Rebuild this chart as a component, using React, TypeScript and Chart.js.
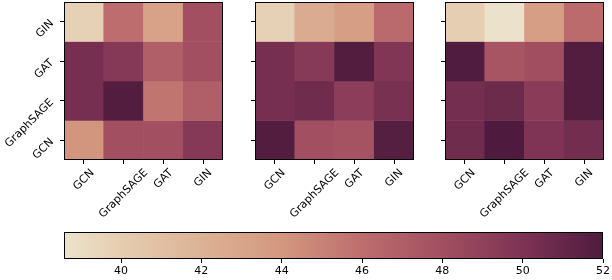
import React, { useEffect, useRef } from "react";
import { Chart, registerables } from "chart.js";

Chart.register(...registerables);

// x categories (left → right)
const colLabels = ["GCN", "GraphSAGE", "GAT", "GIN"];
// y categories (bottom → top)
const rowLabels = ["GCN", "GraphSAGE", "GAT", "GIN"];

// values, rows listed top → bottom (GIN, GAT, GraphSAGE, GCN), columns GCN, GraphSAGE, GAT, GIN
const panel1 = [
  [39.7, 46.0, 43.2, 48.0],
  [50.3, 49.6, 47.0, 48.0],
  [50.3, 51.8, 45.6, 47.0],
  [44.1, 48.0, 48.0, 49.6],
];
const panel2 = [
  [39.7, 42.5, 43.5, 46.2],
  [50.3, 49.5, 51.8, 49.8],
  [50.3, 50.6, 49.3, 50.2],
  [51.8, 48.0, 47.8, 51.7],
];
const panel3 = [
  [39.9, 38.6, 43.5, 46.1],
  [51.9, 47.6, 48.1, 51.8],
  [50.4, 50.7, 49.4, 51.8],
  [50.6, 52.0, 49.9, 50.5],
];

const colorbarTicks = [40, 42, 44, 46, 48, 50, 52];
const vMin = 38.58;
const vMax = 52;

const FONT = "DejaVu Sans";
const FSIZE = 11;

// colormap stops (value, rgb)
const cmapStops: [number, [number, number, number]][] = [
  [38.58, [236, 226, 203]],
  [40, [230, 205, 176]],
  [42, [220, 178, 149]],
  [44, [211, 151, 127]],
  [46, [189, 109, 109]],
  [48, [162, 79, 97]],
  [50, [126, 51, 84]],
  [52, [78, 27, 62]],
];

function rgb(c: number[]) {
  return `rgb(${Math.round(c[0])},${Math.round(c[1])},${Math.round(c[2])})`;
}
function cmap(v: number): string {
  if (v <= cmapStops[0][0]) return rgb(cmapStops[0][1]);
  for (let i = 1; i < cmapStops.length; i++) {
    const [v1, c1] = cmapStops[i];
    const [v0, c0] = cmapStops[i - 1];
    if (v <= v1) {
      const t = (v - v0) / (v1 - v0);
      return rgb([0, 1, 2].map((k) => c0[k] + (c1[k] - c0[k]) * t));
    }
  }
  return rgb(cmapStops[cmapStops.length - 1][1]);
}

const frame = {
  id: "frame",
  afterDatasetsDraw(chart: any) {
    const { ctx, chartArea } = chart;
    ctx.save();
    ctx.strokeStyle = "#000";
    ctx.lineWidth = 1;
    ctx.strokeRect(
      Math.round(chartArea.left) + 0.5,
      Math.round(chartArea.top) + 0.5,
      Math.round(chartArea.right - chartArea.left) - 1,
      Math.round(chartArea.bottom - chartArea.top) - 1
    );
    ctx.restore();
  },
};

// x tick labels rotated 45°, centred horizontally on the tick (matplotlib style)
const xLabels = {
  id: "xLabels",
  afterDraw(chart: any) {
    const { ctx, chartArea } = chart;
    const xs = chart.scales.x;
    const labels = chart.data.labels as string[];
    ctx.save();
    ctx.font = `${FSIZE}px "${FONT}"`;
    ctx.fillStyle = "#000";
    ctx.textAlign = "center";
    ctx.textBaseline = "middle";
    const c = Math.SQRT1_2;
    labels.forEach((lab, i) => {
      const px = xs.getPixelForTick(i);
      const w = ctx.measureText(lab).width;
      const inkH = (w + 0.8 * FSIZE) * c;
      const cy = chartArea.bottom + 8 + inkH / 2;
      ctx.save();
      ctx.translate(px, cy);
      ctx.rotate(-Math.PI / 4);
      ctx.fillText(lab, 0, 0);
      ctx.restore();
    });
    ctx.restore();
  },
};

const noPad = (s: any) => {
  s.paddingTop = 0;
  s.paddingBottom = 0;
  s.paddingLeft = 0;
  s.paddingRight = 0;
};

type HeatProps = {
  values: number[][];
  showY: boolean;
  left: number;
  width: number;
  yWidth: number;
  padRight: number;
};

function Heatmap({ values, showY, left, width, yWidth, padRight }: HeatProps) {
  const ref = useRef<HTMLCanvasElement>(null);
  useEffect(() => {
    const datasets = values.map((row, r) => {
      const yi = values.length - 1 - r;
      return {
        data: row.map(() => [yi - 0.5, yi + 0.5]),
        backgroundColor: row.map((v) => cmap(v)),
        borderWidth: 0,
        borderSkipped: false,
        grouped: false,
        barPercentage: 1,
        categoryPercentage: 1,
      };
    });
    const chart = new Chart(ref.current!, {
      type: "bar",
      data: { labels: colLabels, datasets: datasets as any },
      options: {
        responsive: false,
        animation: false,
        maintainAspectRatio: false,
        layout: { padding: { top: 2, right: padRight, left: 0, bottom: 0 } },
        plugins: { legend: { display: false }, tooltip: { enabled: false } },
        scales: {
          x: {
            type: "category",
            offset: true,
            grid: {
              display: true,
              drawOnChartArea: false,
              drawTicks: true,
              tickLength: 4,
              color: "#000",
              offset: false,
            },
            border: { display: false },
            ticks: { display: false, autoSkip: false },
            afterFit: (s: any) => {
              s.height = 68;
              noPad(s);
            },
          },
          y: {
            type: "linear",
            min: -0.5,
            max: 3.5,
            afterBuildTicks: (s: any) => {
              s.ticks = rowLabels.map((_, i) => ({ value: i }));
            },
            grid: {
              display: true,
              drawOnChartArea: false,
              drawTicks: true,
              tickLength: 4,
              color: "#000",
            },
            border: { display: false },
            ticks: {
              font: { family: FONT, size: FSIZE },
              color: "#000",
              minRotation: 45,
              maxRotation: 45,
              autoSkip: false,
              padding: 8,
              callback: (v: any) => (showY ? rowLabels[Number(v)] : ""),
            },
            afterFit: (s: any) => {
              s.width = yWidth;
              noPad(s);
            },
          },
        },
      },
      plugins: [frame, xLabels],
    });
    return () => chart.destroy();
  }, []);
  return (
    <canvas
      ref={ref}
      width={width}
      height={228}
      style={{ position: "absolute", left, top: 0, width, height: 228 }}
    />
  );
}

function Colorbar() {
  const ref = useRef<HTMLCanvasElement>(null);
  useEffect(() => {
    const chart = new Chart(ref.current!, {
      type: "bar",
      data: {
        labels: ["cb"],
        datasets: [
          {
            data: [[vMin, vMax]] as any,
            backgroundColor: (ctx: any) => {
              const ch = ctx.chart;
              const xs = ch.scales.x;
              if (!ch.chartArea || !xs) return cmap(45);
              const x0 = xs.getPixelForValue(vMin);
              const x1 = xs.getPixelForValue(vMax);
              const g = ch.ctx.createLinearGradient(x0, 0, x1, 0);
              cmapStops.forEach(([v, c]) => {
                g.addColorStop(Math.min(1, Math.max(0, (v - vMin) / (vMax - vMin))), rgb(c));
              });
              return g;
            },
            borderWidth: 0,
            borderSkipped: false,
            barPercentage: 1,
            categoryPercentage: 1,
          },
        ],
      },
      options: {
        indexAxis: "y",
        responsive: false,
        animation: false,
        maintainAspectRatio: false,
        layout: { padding: { top: 7, right: 9, left: 14, bottom: 0 } },
        plugins: { legend: { display: false }, tooltip: { enabled: false } },
        scales: {
          x: {
            type: "linear",
            min: vMin,
            max: vMax,
            afterBuildTicks: (s: any) => {
              s.ticks = colorbarTicks.map((v) => ({ value: v }));
            },
            grid: {
              display: true,
              drawOnChartArea: false,
              drawTicks: true,
              tickLength: 4,
              color: "#000",
            },
            border: { display: false },
            ticks: {
              font: { family: FONT, size: FSIZE },
              color: "#000",
              maxRotation: 0,
              autoSkip: false,
              padding: 2,
            },
            afterFit: (s: any) => {
              s.height = 21;
              noPad(s);
            },
          },
          y: { display: false },
        },
      },
      plugins: [frame],
    });
    return () => chart.destroy();
  }, []);
  return (
    <canvas
      ref={ref}
      width={562}
      height={55}
      style={{ position: "absolute", left: 50, top: 225, width: 562, height: 55 }}
    />
  );
}

export default function App() {
  return (
    <div
      style={{
        position: "fixed",
        left: 0,
        top: 0,
        width: 612,
        height: 280,
        background: "#fff",
        overflow: "hidden",
      }}
    >
      <Heatmap values={panel1} showY={true} left={0} width={230} yWidth={64} padRight={7} />
      <Heatmap values={panel2} showY={false} left={240} width={180} yWidth={15} padRight={6} />
      <Heatmap values={panel3} showY={false} left={430} width={182} yWidth={15} padRight={8} />
      <Colorbar />
    </div>
  );
}
